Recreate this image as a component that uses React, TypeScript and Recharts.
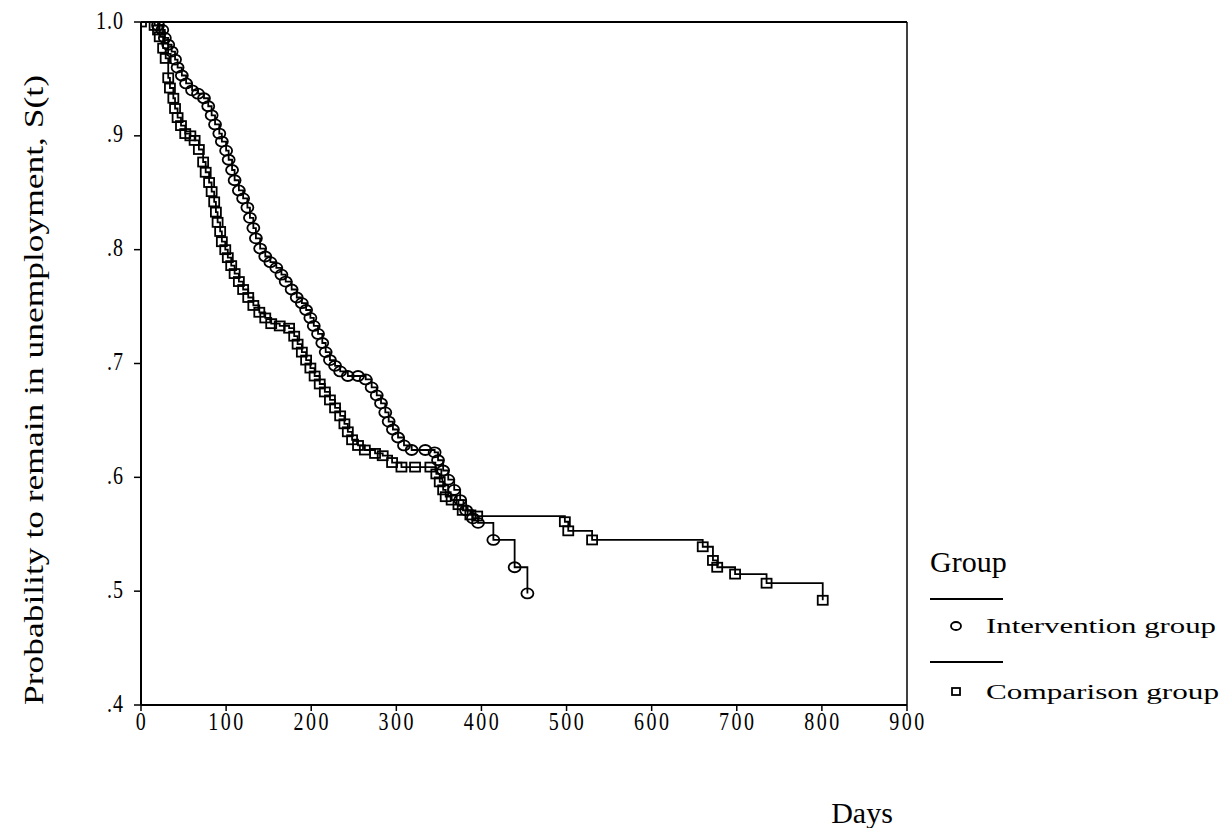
import React from 'react';
import { Line, LineChart, ReferenceLine, XAxis, YAxis } from 'recharts';

// Kaplan-Meier estimates (day, S(t))
const interventionDays = [
  0, 20, 25, 28, 32, 36, 40, 43, 48, 53, 60, 67, 74, 79, 83, 87, 92, 95, 100, 103, 107, 110, 115, 120,
  125, 128, 132, 135, 140, 146, 152, 159, 165, 170, 177, 183, 189, 194, 199, 203, 208, 213, 217, 222,
  228, 234, 243, 255, 264, 271, 277, 282, 287, 291, 296, 302, 309, 318, 334, 345, 349, 355, 361, 368,
  375, 382, 390, 396, 414, 439, 454
];
const interventionSurv = [
  1.0, 0.997, 0.993, 0.986, 0.98, 0.974, 0.967, 0.96, 0.953, 0.946, 0.94, 0.937, 0.933, 0.926, 0.918,
  0.91, 0.902, 0.895, 0.887, 0.879, 0.87, 0.861, 0.852, 0.845, 0.837, 0.828, 0.819, 0.81, 0.801, 0.794,
  0.789, 0.784, 0.778, 0.772, 0.765, 0.758, 0.753, 0.747, 0.74, 0.733, 0.726, 0.718, 0.71, 0.703, 0.698,
  0.693, 0.689, 0.689, 0.686, 0.679, 0.672, 0.665, 0.657, 0.649, 0.642, 0.635, 0.628, 0.624, 0.624,
  0.622, 0.615, 0.606, 0.598, 0.589, 0.58, 0.571, 0.564, 0.56, 0.545, 0.521, 0.498
];

const comparisonDays = [
  0, 16, 20, 22, 26, 29, 32, 34, 38, 40, 43, 47, 52, 58, 63, 68, 73, 76, 80, 83, 86, 88, 90, 93, 95,
  99, 102, 106, 110, 115, 120, 126, 132, 139, 146, 153, 163, 174, 180, 184, 189, 194, 199, 204, 210,
  216, 222, 228, 234, 239, 243, 248, 255, 263, 275, 284, 295, 306, 322, 340, 347, 351, 355, 358, 365,
  373, 378, 387, 395, 498, 502, 530, 660, 672, 677, 698, 735, 801
];
const comparisonSurv = [
  1.0, 0.997, 0.993, 0.987, 0.977, 0.968, 0.951, 0.942, 0.933, 0.924, 0.916, 0.909, 0.902, 0.9, 0.896,
  0.888, 0.877, 0.868, 0.859, 0.851, 0.842, 0.833, 0.824, 0.816, 0.807, 0.8, 0.793, 0.786, 0.779, 0.772,
  0.765, 0.758, 0.751, 0.745, 0.74, 0.735, 0.733, 0.731, 0.724, 0.717, 0.71, 0.703, 0.696, 0.689, 0.682,
  0.675, 0.668, 0.661, 0.654, 0.647, 0.64, 0.633, 0.628, 0.624, 0.621, 0.619, 0.613, 0.609, 0.609,
  0.609, 0.603, 0.596, 0.589, 0.583, 0.58, 0.576, 0.571, 0.567, 0.566, 0.561, 0.553, 0.545, 0.539,
  0.527, 0.521, 0.515, 0.507, 0.492
];

const xTicks = [0, 100, 200, 300, 400, 500, 600, 700, 800, 900];
const yTicks = [0.4, 0.5, 0.6, 0.7, 0.8, 0.9, 1.0];

const groupNames = ['Intervention group', 'Comparison group'];

const SERIF = '"Liberation Serif", "DejaVu Serif", serif';

const interventionData = interventionDays.map((day, i) => ({ day, s: interventionSurv[i] }));
const comparisonData = comparisonDays.map((day, i) => ({ day, s: comparisonSurv[i] }));

function yLabel(v: number) {
  return v >= 1 ? '1.0' : '.' + Math.round(v * 10);
}

function XTick({ x, y, payload }: any) {
  return (
    <g transform={`translate(${x + 1},${y})`}>
      <text transform="scale(1,1.3)" textAnchor="middle" y={13} fontSize={20} letterSpacing={2.5}
        fontFamily={SERIF} fill="#000">
        {payload.value}
      </text>
    </g>
  );
}

function YTick({ x, y, payload }: any) {
  return (
    <g transform={`translate(${x},${y})`}>
      <text transform="scale(1,1.3)" textAnchor="end" y={5} fontSize={20} letterSpacing={1}
        fontFamily={SERIF} fill="#000">
        {yLabel(payload.value)}
      </text>
    </g>
  );
}

function CircleDot(props: any) {
  const { cx, cy, index } = props;
  if (index === 0 || cx == null) return <g key={`c-${index}`} />;
  return <ellipse key={`c-${index}`} cx={cx} cy={cy} rx={6} ry={5} fill="none" stroke="#000" strokeWidth={1.8} />;
}

function SquareDot(props: any) {
  const { cx, cy, index } = props;
  if (cx == null) return <g key={`s-${index}`} />;
  return (
    <rect key={`s-${index}`} x={cx - 5} y={cy - 4.5} width={10} height={9} fill="none" stroke="#000"
      strokeWidth={1.8} />
  );
}

function GroupLegend() {
  return (
    <svg width={305} height={180} style={{ position: 'absolute', left: 920, top: 532 }}>
      <text x={10} y={40} fontSize={30} fontFamily={SERIF} fill="#000">
        Group
      </text>
      <line x1={10} x2={83} y1={67} y2={67} stroke="#000" strokeWidth={2} />
      <ellipse cx={36} cy={94} rx={5} ry={4} fill="none" stroke="#000" strokeWidth={1.8} />
      <text x={66} y={101} fontSize={20} fontFamily={SERIF} fill="#000" textLength={230}
        lengthAdjust="spacingAndGlyphs">
        {groupNames[0]}
      </text>
      <line x1={10} x2={83} y1={130} y2={130} stroke="#000" strokeWidth={2} />
      <rect x={32} y={156} width={8} height={7} fill="none" stroke="#000" strokeWidth={1.8} />
      <text x={66} y={167} fontSize={20} fontFamily={SERIF} fill="#000" textLength={233}
        lengthAdjust="spacingAndGlyphs">
        {groupNames[1]}
      </text>
    </svg>
  );
}

export default function App() {
  return (
    <div style={{ position: 'absolute', left: 0, top: 0, width: 1225, height: 828, background: '#fff' }}>
      <LineChart width={1225} height={828} margin={{ top: 22, right: 318, left: 0, bottom: 0 }}>
        <XAxis
          type="number"
          dataKey="day"
          domain={[0, 900]}
          ticks={xTicks}
          allowDataOverflow
          height={123}
          tick={<XTick />}
          tickSize={6}
          axisLine={{ stroke: '#000', strokeWidth: 2 }}
          tickLine={{ stroke: '#000', strokeWidth: 1.5 }}
          label={{
            content: () => (
              <text x={862} y={823} textAnchor="middle" fontSize={30} fontFamily={SERIF} fill="#000">
                Days
              </text>
            )
          }}
        />
        <YAxis
          type="number"
          domain={[0.4, 1.0]}
          ticks={yTicks}
          allowDataOverflow
          width={141}
          tick={<YTick />}
          tickSize={7}
          tickMargin={10}
          axisLine={{ stroke: '#000', strokeWidth: 2 }}
          tickLine={{ stroke: '#000', strokeWidth: 1.5 }}
          label={{
            content: () => (
              <text
                transform="translate(43,390) rotate(-90)"
                textAnchor="middle"
                fontSize={27}
                fontFamily={SERIF}
                fill="#000"
                textLength={630}
                lengthAdjust="spacingAndGlyphs"
              >
                Probability to remain in unemployment, S(t)
              </text>
            )
          }}
        />
        <ReferenceLine y={1.0} stroke="#000" strokeWidth={2} />
        <ReferenceLine x={900} stroke="#000" strokeWidth={1.5} />
        <Line
          data={interventionData}
          dataKey="s"
          name={groupNames[0]}
          type="stepAfter"
          stroke="#000"
          strokeWidth={1.8}
          dot={<CircleDot />}
          activeDot={false}
          isAnimationActive={false}
        />
        <Line
          data={comparisonData}
          dataKey="s"
          name={groupNames[1]}
          type="stepAfter"
          stroke="#000"
          strokeWidth={1.8}
          dot={<SquareDot />}
          activeDot={false}
          isAnimationActive={false}
        />
      </LineChart>
      <GroupLegend />
    </div>
  );
}
